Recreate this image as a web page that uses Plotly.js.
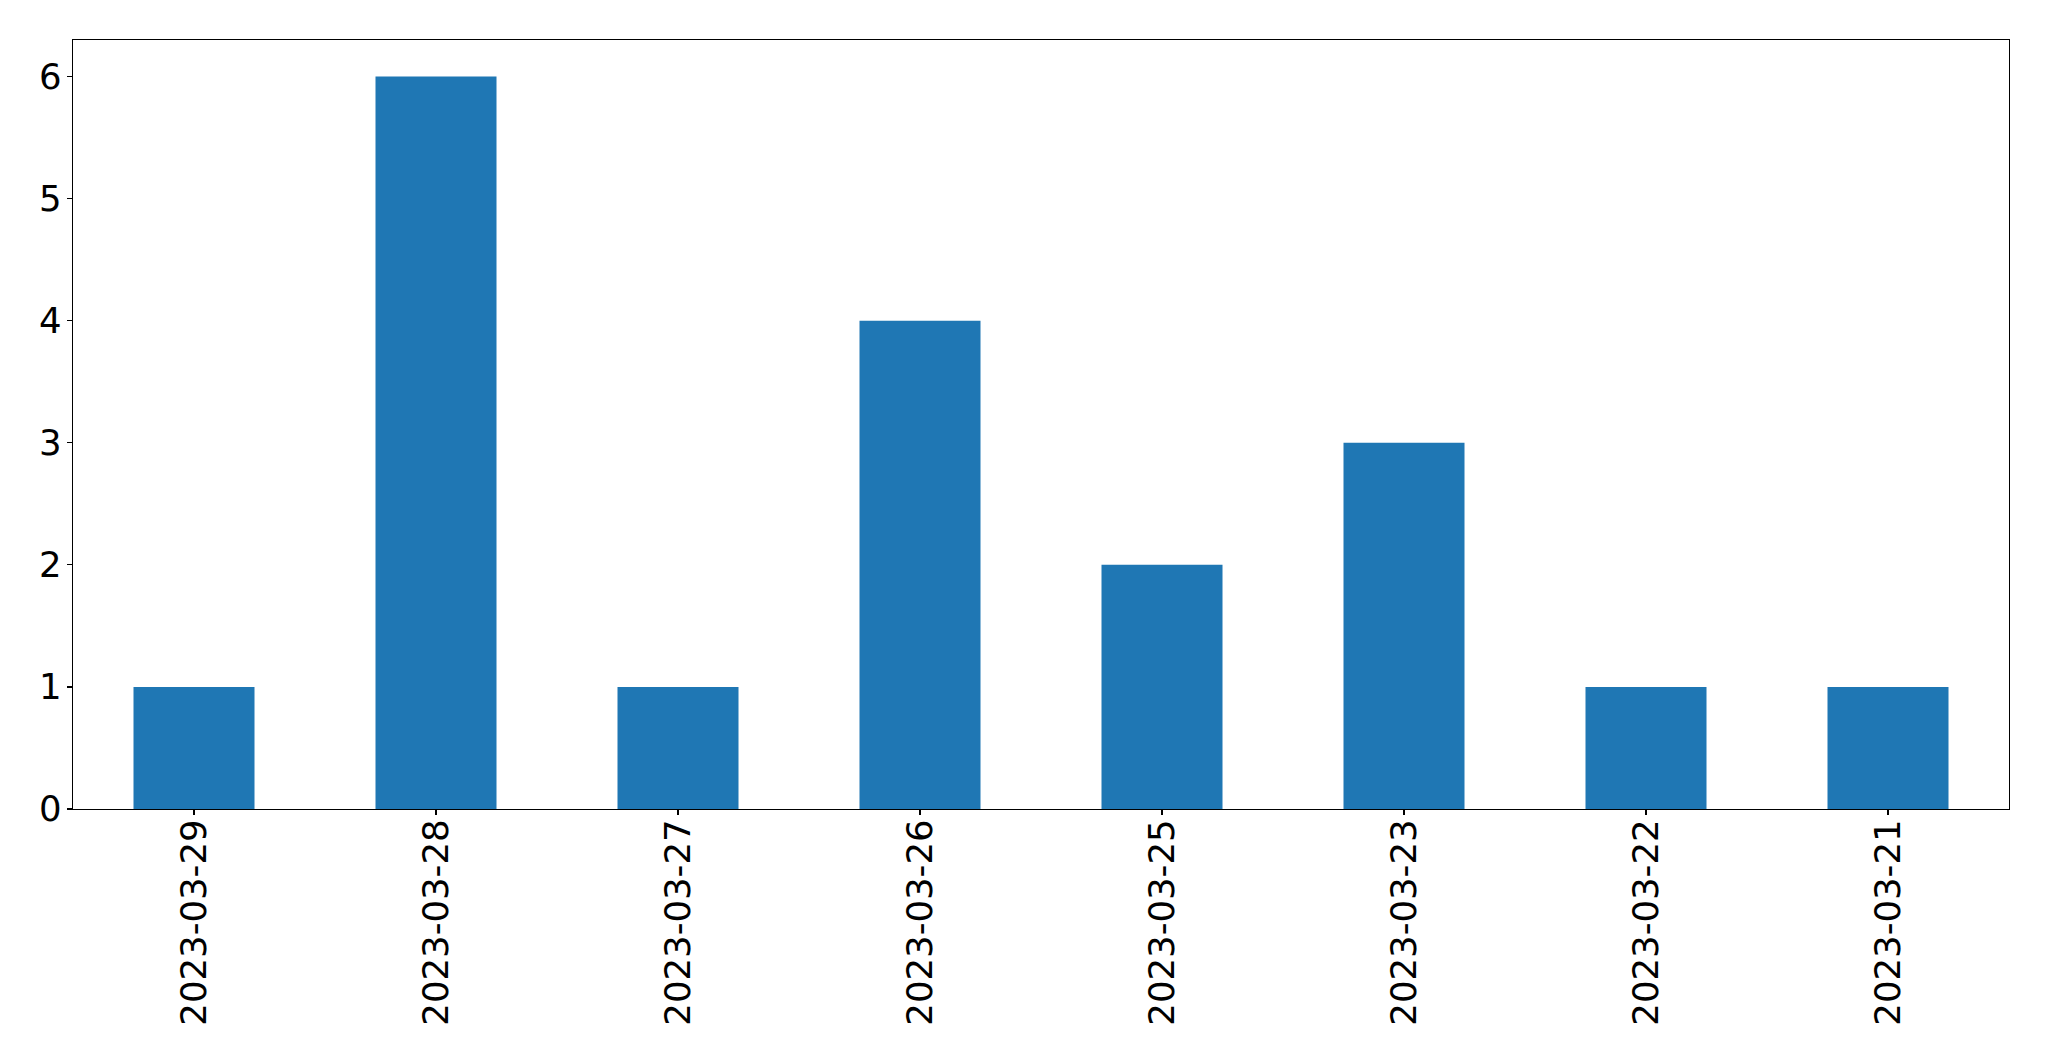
<!DOCTYPE html>
<html>
<head>
<meta charset="utf-8">
<script src="https://cdn.plot.ly/plotly-3.0.1.min.js"></script>
<style>
html,body{margin:0;padding:0;background:#fff;}
#chart{width:2049px;height:1061px;}
</style>
</head>
<body>
<div id="chart"></div>
<script>
const categories = ["2023-03-29","2023-03-28","2023-03-27","2023-03-26","2023-03-25","2023-03-23","2023-03-22","2023-03-21"];
const counts = [1, 6, 1, 4, 2, 3, 1, 1];
const yTicks = [0, 1, 2, 3, 4, 5, 6];

const trace = {
  type: "bar",
  x: categories,
  y: counts,
  width: 0.5,
  marker: {color: "#1f77b4", line: {width: 0}},
  hoverinfo: "x+y"
};

const axisCommon = {
  showline: true,
  linecolor: "#000",
  linewidth: 1.2,
  mirror: true,
  ticks: "outside",
  ticklen: 5,
  tickwidth: 1.2,
  tickcolor: "#000",
  showgrid: false,
  zeroline: false,
  tickfont: {family: "DejaVu Sans, sans-serif", size: 35.5, color: "#000"}
};

const layout = {
  width: 2049,
  height: 1061,
  paper_bgcolor: "#fff",
  plot_bgcolor: "#fff",
  margin: {l: 72.5, r: 39.7, t: 39.5, b: 252, pad: 0},
  showlegend: false,
  bargap: 0.5,
  xaxis: Object.assign({}, axisCommon, {
    type: "category",
    range: [-0.5, categories.length - 0.5],
    tickangle: -90,
    ticklabelstandoff: -10
  }),
  yaxis: Object.assign({}, axisCommon, {
    range: [0, 6.3],
    tickvals: yTicks,
    ticktext: yTicks.map(String),
    ticklabelstandoff: -2
  })
};

Plotly.newPlot("chart", [trace], layout, {displayModeBar: false, staticPlot: true});
</script>
</body>
</html>
